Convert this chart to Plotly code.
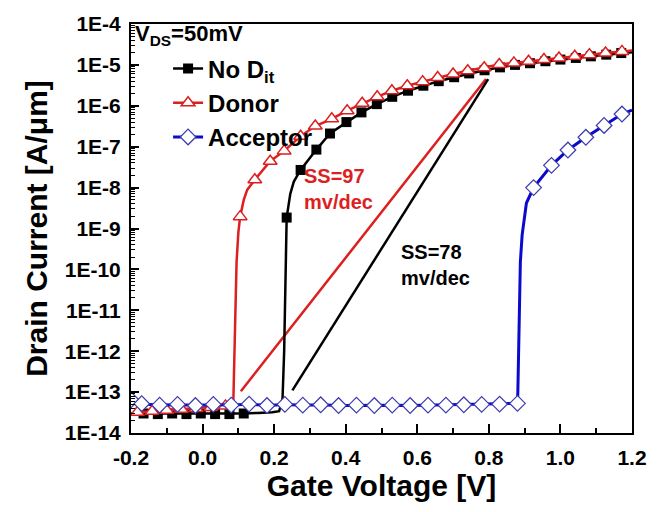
import plotly.graph_objects as go

# ---------------- data ----------------
# No D_it (black squares)
nodit_v = [-0.2, -0.165, -0.125, -0.085, -0.045, -0.005, 0.035, 0.075, 0.115, 0.155, 0.195,
           0.214, 0.2235, 0.228, 0.2326, 0.235, 0.245, 0.255, 0.274, 0.318, 0.356, 0.402,
           0.444, 0.487, 0.53, 0.574, 0.617, 0.66, 0.703, 0.745, 0.788, 0.831, 0.873,
           0.915, 0.958, 1.0, 1.043, 1.085, 1.128, 1.17, 1.2]
nodit_i = [3.0e-14, 3.0e-14, 2.9e-14, 3.0e-14, 2.9e-14, 3.0e-14, 2.9e-14, 2.9e-14, 3.0e-14, 3.1e-14, 3.2e-14,
           3.4e-14, 7e-14, 1e-12, 1.5e-10, 1.85e-9, 7e-9, 1.4e-8, 2.7e-8, 8.5e-8, 2.1e-7, 4.0e-7,
           6.9e-7, 1.1e-6, 1.66e-6, 2.34e-6, 3.1e-6, 4.0e-6, 5.0e-6, 6.2e-6, 7.4e-6, 8.7e-6, 1.0e-5,
           1.1e-5, 1.23e-5, 1.35e-5, 1.48e-5, 1.62e-5, 1.78e-5, 1.95e-5, 2.05e-5]
nodit_marked = [0, 1, 1, 1, 1, 1, 1, 1, 1, 0, 0,
                0, 0, 0, 0, 1, 0, 0, 1, 1, 1, 1,
                1, 1, 1, 1, 1, 1, 1, 1, 1, 1, 1,
                1, 1, 1, 1, 1, 1, 1, 0]

# Donor (red triangles)
donor_v = [-0.2, -0.182, -0.141, -0.1, -0.059, -0.018, 0.023, 0.064, 0.084, 0.086, 0.09, 0.095, 0.1,
           0.105, 0.115, 0.125, 0.146, 0.189, 0.228, 0.274, 0.315, 0.361, 0.404, 0.446, 0.488,
           0.529, 0.572, 0.615, 0.657, 0.70, 0.741, 0.787, 0.829, 0.870, 0.911, 0.954, 0.996,
           1.04, 1.081, 1.126, 1.172, 1.2]
donor_i = [3.0e-14, 3.2e-14, 3.4e-14, 3.6e-14, 3.8e-14, 4.0e-14, 4.2e-14, 4.6e-14, 5.5e-14, 6e-14, 2e-12, 1.5e-10, 8e-10,
           1.95e-9, 5e-9, 8.9e-9, 1.55e-8, 4.4e-8, 7.9e-8, 1.8e-7, 3.2e-7, 4.8e-7, 7.6e-7, 1.15e-6, 1.66e-6,
           2.34e-6, 3.1e-6, 3.9e-6, 4.9e-6, 6.0e-6, 7.2e-6, 8.5e-6, 1.02e-5, 1.12e-5, 1.23e-5, 1.35e-5, 1.48e-5,
           1.62e-5, 1.78e-5, 1.95e-5, 2.14e-5, 2.25e-5]
donor_marked = [0, 1, 1, 1, 1, 1, 1, 1, 0, 0, 0, 0, 0,
                1, 0, 0, 1, 1, 1, 1, 1, 1, 1, 1, 1,
                1, 1, 1, 1, 1, 1, 1, 1, 1, 1, 1, 1,
                1, 1, 1, 1, 0]

# Acceptor (blue diamonds)
acc_v = [-0.2, -0.17, -0.12, -0.07, -0.02, 0.03, 0.08, 0.13, 0.18, 0.23, 0.28, 0.33, 0.38, 0.43,
         0.48, 0.53, 0.58, 0.63, 0.68, 0.73, 0.78, 0.83, 0.88, 0.881, 0.888, 0.893, 0.905,
         0.925, 0.975, 1.021, 1.071, 1.122, 1.172, 1.2]
acc_i = [6.5e-14, 5.2e-14, 4.8e-14, 5.0e-14, 4.7e-14, 5.0e-14, 4.8e-14, 5.1e-14, 4.7e-14, 5.0e-14, 4.8e-14,
         4.9e-14, 4.7e-14, 4.8e-14, 4.7e-14, 4.8e-14, 4.7e-14, 4.8e-14, 4.8e-14, 4.9e-14, 5.0e-14, 5.1e-14,
         5.3e-14, 1e-13, 1.5e-10, 7e-10, 4.2e-9, 1e-8, 3.5e-8, 8.3e-8, 1.7e-7, 3.3e-7, 6.3e-7, 7.8e-7]
acc_marked = [1] * 23 + [0, 0, 0, 0] + [1] * 6 + [0]

# subthreshold slope guide lines
ss97_v = [0.107, 0.792]
ss97_i = [1.05e-13, 4.5e-6]
ss78_v = [0.251, 0.798]
ss78_i = [1.1e-13, 4.5e-6]

x_tickvals = [-0.2, 0.0, 0.2, 0.4, 0.6, 0.8, 1.0, 1.2]
x_ticktext = ["-0.2", "0.0", "0.2", "0.4", "0.6", "0.8", "1.0", "1.2"]
y_tickvals = [1e-14, 1e-13, 1e-12, 1e-11, 1e-10, 1e-9, 1e-8, 1e-7, 1e-6, 1e-5, 1e-4]
y_ticktext = ["1E-14", "1E-13", "1E-12", "1E-11", "1E-10", "1E-9", "1E-8", "1E-7", "1E-6", "1E-5", "1E-4"]

# ---------------- styles ----------------
FONT = "Liberation Sans, Arial, sans-serif"
BLACK = "#000000"
RED = "#DC1F1F"
BLUE = "#0A0ACD"
BLUE_MK = "#3B3BAE"

series = [
    dict(name="No D<sub>it</sub>", v=nodit_v, i=nodit_i, m=nodit_marked, color=BLACK, lw=2.5,
         marker=dict(symbol="square", size=10, color=BLACK, line=dict(color=BLACK, width=0))),
    dict(name="Donor", v=donor_v, i=donor_i, m=donor_marked, color=RED, lw=2.5,
         marker=dict(symbol="triangle-up", size=12, color="white", line=dict(color=RED, width=1.5))),
    dict(name="Acceptor", v=acc_v, i=acc_i, m=acc_marked, color=BLUE, lw=3,
         marker=dict(symbol="diamond", size=12, color="white", line=dict(color=BLUE_MK, width=1.2))),
]

fig = go.Figure()

# slope guide lines (drawn beneath)
fig.add_trace(go.Scatter(x=ss97_v, y=ss97_i, mode="lines", line=dict(color=RED, width=2.5),
                         showlegend=False, hoverinfo="skip"))
fig.add_trace(go.Scatter(x=ss78_v, y=ss78_i, mode="lines", line=dict(color=BLACK, width=2.5),
                         showlegend=False, hoverinfo="skip"))

for s in series:
    fig.add_trace(go.Scatter(x=s["v"], y=s["i"], mode="lines",
                             line=dict(color=s["color"], width=s["lw"]), showlegend=False))
    mv = [v for v, k in zip(s["v"], s["m"]) if k]
    mi = [i for i, k in zip(s["i"], s["m"]) if k]
    fig.add_trace(go.Scatter(x=mv, y=mi, mode="markers", marker=s["marker"], showlegend=False))

for s in series:
    fig.add_trace(go.Scatter(x=[None], y=[None], mode="lines+markers", name=s["name"],
                             line=dict(color=s["color"], width=s["lw"]), marker=s["marker"]))

fig.add_annotation(text="V<sub>DS</sub>=50mV", xref="paper", yref="paper", x=0.004, y=1.012,
                   xanchor="left", yanchor="top", showarrow=False,
                   font=dict(family=FONT, size=22, color=BLACK, weight="bold"))
fig.add_annotation(text="SS=97<br>mv/dec", xref="paper", yref="paper", x=0.342, y=0.66,
                   xanchor="left", yanchor="top", align="left", showarrow=False,
                   font=dict(family=FONT, size=20, color=RED, weight="bold"))
fig.add_annotation(text="SS=78<br>mv/dec", xref="paper", yref="paper", x=0.534, y=0.475,
                   xanchor="left", yanchor="top", align="left", showarrow=False,
                   font=dict(family=FONT, size=20, color=BLACK, weight="bold"))

fig.update_layout(
    width=659, height=512,
    margin=dict(l=131, r=19, t=19, b=79),
    paper_bgcolor="white", plot_bgcolor="white",
    font=dict(family=FONT, color=BLACK),
    legend=dict(x=0.074, y=0.945, xanchor="left", yanchor="top", bgcolor="rgba(0,0,0,0)",
                font=dict(family=FONT, size=24, color=BLACK, weight="bold"),
                tracegroupgap=0, itemsizing="trace"),
    xaxis=dict(range=[-0.2, 1.2], tickmode="array", tickvals=x_tickvals, ticktext=x_ticktext,
               ticks="inside", ticklen=9, tickwidth=2, tickcolor=BLACK,
               minor=dict(dtick=0.1, tick0=-0.2, ticks="inside", ticklen=5, tickwidth=2, tickcolor=BLACK, showgrid=False),
               showline=True, linewidth=2, linecolor=BLACK, mirror=True, showgrid=False, zeroline=False,
               tickfont=dict(family=FONT, size=21, color=BLACK, weight="bold"), ticklabelstandoff=5,
               title=dict(text="Gate Voltage [V]", standoff=6,
                          font=dict(family=FONT, size=30, color=BLACK, weight="bold"))),
    yaxis=dict(type="log", range=[-14, -4], tickmode="array", tickvals=y_tickvals, ticktext=y_ticktext,
               ticks="inside", ticklen=8, tickwidth=2, tickcolor=BLACK,
               minor=dict(dtick="D1", ticks="inside", ticklen=4, tickwidth=1, tickcolor=BLACK, showgrid=False),
               showline=True, linewidth=2, linecolor=BLACK, mirror=True, showgrid=False, zeroline=False,
               tickfont=dict(family=FONT, size=21, color=BLACK, weight="bold"), ticklabelstandoff=4,
               title=dict(text="Drain Current [A/\u03bcm]", standoff=8,
                          font=dict(family=FONT, size=30, color=BLACK, weight="bold"))),
)

fig.write_html("out.html")
